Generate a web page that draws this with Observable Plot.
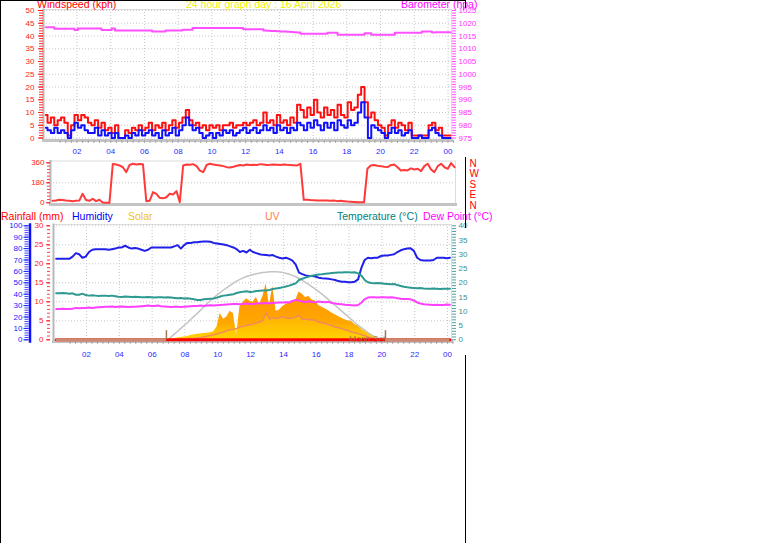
<!DOCTYPE html>
<html><head><meta charset="utf-8">
<script src="https://cdn.jsdelivr.net/npm/d3@7"></script>
<script src="https://cdn.jsdelivr.net/npm/@observablehq/plot@0.6"></script>
<style>
html,body{margin:0;padding:0;background:#fff;}
#wrap{position:relative;width:761px;height:543px;overflow:hidden;background:#fff;font-family:"Liberation Sans",Arial,sans-serif;}
#wrap svg{position:absolute;left:0;top:0;}
.lbl{position:absolute;white-space:nowrap;font-size:10.5px;line-height:1;}
.bl{position:absolute;background:#000;}
</style></head><body>
<svg width="0" height="0" style="position:absolute">
  <defs>
    <linearGradient id="solarGrad" x1="0" y1="0" x2="0" y2="1">
      <stop offset="0" stop-color="#ff9400"/>
      <stop offset="0.7" stop-color="#ffa600"/>
      <stop offset="1" stop-color="#ffd800"/>
    </linearGradient>
  </defs>
</svg>
<div id="wrap"></div>
<script>
// ---------------- data ----------------
const sampleHours = d3.range(121).map(i => +(0.15 + 0.2 * i).toFixed(2)); // sampling grid (hours)

const windGust = [9,6,8,5,7, 8,6,1,5,9,7,9,8,6, 5,7,4,6,3, 4,2,5, 0,0,
  3,2,4,3,5,3,4,6,3,5,4,6,3,5, 7,4,6,8,11,7,5,6,4,5, 3,5,4,5,3,5,5,6,4,5,
  5,6,5,6,7,5,6,10,6,7, 5,9,6,7,5,8,6,13,11,8, 12,9,15,10,8,12,9,11,8,13,
  9,8,14,11,12,17,20,14,8,10, 7,5,4,1,5,7,4,6,5,3, 6,1,1,1,1,1,5,6,3,4, 1,1,1];
const windAvg = [4,3,2,4,2, 3,2,0,3,6,4,5,3,2, 2,4,1,3,1, 2,0,2, 0,0,
  1,0,2,1,3,1,2,3,1,2,0,3,1,2, 4,1,3,5,8,5,3,4,2,0, 1,2,0,2,1,3,2,3,1,2,
  3,4,2,3,4,2,3,5,3,4, 2,5,3,4,2,4,3,6,5,3, 6,4,7,5,3,6,4,6,3,7,
  5,4,7,5,6,10,14,8,0,5, 4,3,2,0,2,4,2,3,1,2, 3,0,0,1,0,0,3,4,2,1, 0,0,0];
const barometer = [1018.4,1018.4,1018.4, 1017.8,1017.8,1017.8,1017.8,1017.8,1017.8, 1017.4,
  1017.9,1017.9,1017.9,1017.9,1017.9,1017.9,1017.9, 1017.4,1017.4,1017.4, 1017.9,
  1017.2,1017.2,1017.2,1017.2,1017.2,1017.2,1017.2,1017.2,1017.2,1017.2,1017.2,
  1016.8,1016.8,1016.8,1016.8, 1017.2,1017.2,1017.2,1017.2,1017.2, 1017.5,1017.5,1017.5,
  1018.1,1018.1,1018.1,1018.1,1018.1,1018.1,1018.1,1018.1,1018.1,1018.1,1018.1,1018.1,1018.1,1018.1,1018.1,
  1017.6,1017.6,1017.6,1017.6,1017.6,1017.6,
  1017.2,1017.1,1017.0,1017.0,1016.9,1016.8,1016.8,1016.7,1016.6,1016.5,1016.4,
  1015.9,1015.9,1015.9,1015.9,1015.9,1015.9,1015.9,1015.9, 1016.3,1016.3,1016.3,
  1015.5,1015.5,1015.5,1015.5,1015.5,1015.5,1015.5,1015.5, 1016.1,1016.1,
  1015.5,1015.5,1015.5,1015.5,1015.5,1015.5,1015.5,
  1016.3,1016.3,1016.3,1016.3,1016.3,1016.3,1016.3,1016.3, 1016.8,1016.8,1016.8, 1016.4,
  1016.5,1016.5,1016.5,1016.5,1016.5];
const windDir = [18,20,27,25,20,18,15,18,20, 81,25,18,36,15,27,3,0, 0,
  350,345,336,320,276,340,351,345,350,348, 15,18,96,81,45,40,50,81,75,105,6,
  336,345,342,348,330,290,276,340,351,345,340,336,330,321,318,325,333,340,336,345,340,
  342,340,348,345,340,342,345,343,340,345,342,340,338,336,351,
  27,27,25,24,21,21,20,21,18,21,15,18,15,12,10,8,6,6,6,
  306,336,340,333,330,325,321,338,345,320,291,295,291,310,300,306,285,330,351,300,276,330,351,320,306,357,321];

const humidity = [71,71,71,71,71, 73,76,75,72,73,77,79, 79.5,79.5,79.5,79.5,79,79.5,
  80,81,81,82.5,81,80,80.5,80,79,78,79, 81,81,81,81,81,81,81,82,83,80,83,
  85,85,85.5,85.5,86,86.3,86.3,86,85,84.5, 84,83.5,83,82,81,79.5,77,78,76.6,79,
  77,76,75,74.5,74.3,74,74.3,73,72,71.3, 72,71,69.5,66,59,57.6,56.5,56,56,55.5,
  54.5,54,53.8,53.5,53,52.5,51.5,51,50.9,50.5, 50.5,51,53,63,70,72,71.5,72,72,73.5,
  74,74,74.5,75,77,78.5,79.5,80,80.4,78, 72,70,69.5,69.5,69.5,70,72,72,72,71.5,72];
const temperature = [16.3,16.3,16.4,16.3,16.2,16.3, 15.8,15.8,16.2,15.7,
  15.5,15.6,15.5,15.4,15.5,15.5,15.4,15.5,15.3, 15.1,15.0,15.2,15.1,15.0,15.1,15.0,
  14.9,14.9,15.0,14.9,14.8,14.9,14.9,14.8,14.9,14.8, 14.7,14.6,14.7,14.5,14.6,14.4,
  14.2,14.0,14.0, 14.2,14.3,14.4,14.5, 14.8,15.2,15.5,15.6,15.8,16.0, 16.4,16.7,16.9,17.0,
  16.8,16.9,17.1,17.2, 17.3,17.3,17.5,17.8,18.0, 18.2,18.4,18.7,19.0,19.4, 19.8,21.0,21.4,
  21.8,22.2,22.5,22.7, 22.9,23.0,23.2,23.3,23.4,23.5,23.6,23.6, 23.7,23.7,23.6,23.7,23.3,
  22.5,21.0,20.2,19.9,19.8,19.9,19.8,19.7, 19.6,19.5,19.6,19.2, 18.9,18.6,18.4,18.3,
  18.2,18.1,18.2,18.0,17.9, 17.9,18.0,17.9,17.8,17.9,17.9,17.9];
const dewPoint = [10.8,10.8,10.9,10.8,10.8,10.9, 11.2,11.1,11.2,11.2,11.3,11.2,11.3,11.4,
  11.5,11.6,11.6,11.7,11.5,11.6,11.7,11.6,11.5,11.6,11.6,11.7,11.8,
  11.9,12.0,11.9,11.9,12.0,11.8, 11.7,11.6,11.5,11.6,11.6,11.5,11.6,11.7,
  11.8,11.9,11.9,12.0,11.9,12.0,12.1,12.0,12.1, 12.2,12.3,12.4,12.5,12.6,12.6,12.5,12.6,12.7,12.6,
  12.6,12.7,12.8,12.8,12.9,12.8,12.9, 13.0,13.1,13.1,13.2,13.1, 13.6,14.0,13.8,
  13.4,13.3,13.5,13.3,13.2,13.4,13.3,13.2,13.3, 12.9,12.7,12.6,12.5,12.3,12.2,12.1,12.0,
  12.2,13.0,14.3,14.8, 14.9,14.9,14.8,14.9,14.9,14.8,14.9,14.8, 14.6,14.4,14.3,14.3,14.2,
  13.8,13.1, 12.7,12.5,12.4,12.3,12.2,12.3,12.2,12.2,12.4,12.3];
const rainHours = [0.15, 24.15];
const rainfall = [0, 0];

// daytime samples (sampleHours index 34 .. 100)
const daySamples = sampleHours.slice(34, 101);
const solar = [2,5,10,15,20,25,30,38,42,48, 50,55,58,62,70,110,230,180,200,250,
  230,40,290,330,360,340,330,371,310,380, 489,300,470,250,260,290,310,320,330,345,
  420,400,371,380,350,340,300,285,270,255, 235,220,205,190,175,165,160,135,120,95,
  75,60,45,30,18,8,0];
const solarMax = [0,25,50,75,100,125,150,180,205,232, 260,290,318,345,370,392,415,437,458,478,
  498,515,530,543,555,564,572,579,585,590, 593,596,597,596,594,590,583,575,565,553,
  538,522,504,485,465,445,423,400,376,352, 328,303,278,252,227,202,177,152,128,106,
  85,64,45,28,15,5,0];
const uvIndex = [0,0,0.05,0.05,0.1,0.1, 0.15,0.2,0.2,0.25, 0.3,0.4,0.5,0.6,0.7, 0.8,1.0,1.1,1.3,1.4,
  1.5,1.6,1.8,1.9, 2.0,2.1,2.2,2.4,2.5,2.7, 3.8,2.9, 3.1,3.0,3.1,3.2,3.1,3.0,3.1,3.2,
  3.4,2.9,2.9,2.8,2.8,2.7, 2.5,2.4,2.3,2.1,2.0, 1.8,1.7,1.6,1.4,1.3, 1.1,1.0,0.9,0.7,0.6,
  0.4,0.3,0.2,0.15,0.1, 0];
const sunEvents = [6.87, 20.22];          // sunrise, sunset
const nightSpans = [[0.15, 6.87], [20.22, 24.15]];
const moonSetHour = [20.22];

// ticks
const hourTicks = [2,4,6,8,10,12,14,16,18,20,22,24];
const hourLabels = ["02","04","06","08","10","12","14","16","18","20","22","00"];
const windTicks = [0,5,10,15,20,25,30,35,40,45,50];
const baroTicks = [975,980,985,990,995,1000,1005,1010,1015,1020,1025];
const dirTicks = [0,180,360];
const compassTicks = [360,270,180,90,0];
const compassLabels = ["N","W","S","E","N"];
const humidityTicks = [0,10,20,30,40,50,60,70,80,90,100];
const rainTicks = [0,5,10,15,20,25,30];
const tempTicks = [0,5,10,15,20,25,30,35,40];

// ---------------- rows ----------------
const windRows = sampleHours.map((t, i) => ({t, gust: windGust[i], avg: windAvg[i], baro: barometer[i], dir: windDir[i]}));
const climRows = sampleHours.map((t, i) => ({t, hum: humidity[i], temp: temperature[i], dew: dewPoint[i]}));
const dayRows = daySamples.map((t, i) => ({t, solar: solar[i], max: solarMax[i], uv: uvIndex[i]}));
const rainRows = rainHours.map((t, i) => ({t, rain: rainfall[i]}));

// ---------------- helpers ----------------
const FONT = "'Liberation Sans', Arial, sans-serif";
const W = 761, H = 543;
const wrap = document.getElementById("wrap");
const hourFmt = d => hourLabels[hourTicks.indexOf(d)] ?? "";
const intFmt = d => String(d);
const none = () => "";
const gridStyle = {stroke: "#c8c8c8", strokeOpacity: 1, strokeDasharray: "1,2"};

function layer({left, right, top, bottom, x, y, marks}) {
  const svg = Plot.plot({
    width: W, height: H,
    marginLeft: left, marginRight: W - right, marginTop: top, marginBottom: H - bottom,
    x: {...x, label: null, axis: null},
    y: {...y, label: null, axis: null},
    style: {background: "transparent", overflow: "visible", fontFamily: FONT, fontSize: "8px"},
    marks
  });
  wrap.appendChild(svg);
}
function frameMarks() {
  return [
    Plot.frame({stroke: "#dcdcdc"}),
    Plot.frame({anchor: "left", stroke: "#b8b8b8", strokeWidth: 2}),
    Plot.frame({anchor: "bottom", stroke: "#c4c4c4", strokeWidth: 3})
  ];
}

// ---------------- panel 1: wind speed + barometer ----------------
const P1 = {left: 43, right: 451, top: 9, bottom: 140};
const x1 = {domain: [0, 24], range: [42.8, 447.5]};
const yWind = {domain: [0, 50], range: [137.5, 10]};
layer({...P1, x: x1, y: yWind, marks: [
  Plot.gridX(hourTicks, gridStyle),
  Plot.gridY(windTicks, gridStyle),
  ...frameMarks(),
  Plot.axisY(d3.range(0, 50.5, 1), {tickSize: 4, tickFormat: none, color: "#ff3030"}),
  Plot.axisY(windTicks, {tickSize: 5, tickPadding: 4, tickFormat: intFmt, color: "#ff2020", fontSize: 8}),
  Plot.axisX(d3.range(1, 24.5, 1/3), {tickSize: 3, tickFormat: none, color: "#a8a8a8"}),
  Plot.axisX(hourTicks, {tickSize: 0, tickPadding: 8, tickFormat: hourFmt, color: "#2a2aff", fontSize: 8}),
  Plot.line(windRows, {x: "t", y: "gust", stroke: "#ff1010", strokeWidth: 2, curve: "step"}),
  Plot.line(windRows, {x: "t", y: "avg", stroke: "#1010ff", strokeWidth: 2, curve: "step"})
]});
layer({...P1, x: x1, y: {domain: [975, 1025], range: [137.5, 10]}, marks: [
  Plot.axisY(d3.range(975, 1025.5, 1), {anchor: "right", tickSize: 4, tickFormat: none, color: "#ff50ff"}),
  Plot.axisY(baroTicks, {anchor: "right", tickSize: 0, tickPadding: 7, tickFormat: intFmt, color: "#ff30ff", fontSize: 8}),
  Plot.line(windRows, {x: "t", y: "baro", stroke: "#ff50ff", strokeWidth: 2, curve: "step"})
]});

// ---------------- panel 2: wind direction ----------------
const P2 = {left: 50, right: 455, top: 160.5, bottom: 204};
const compassFmt = d => compassLabels[compassTicks.indexOf(d)];
layer({...P2, x: {domain: [0.15, 24.15], range: [52, 454]}, y: {domain: [0, 360], range: [202.3, 162.3]}, marks: [
  Plot.gridY([180], gridStyle),
  ...frameMarks(),
  Plot.axisY(d3.range(0, 361, 30), {tickSize: 3, tickFormat: none, color: "#ff4040"}),
  Plot.axisY(dirTicks, {tickSize: 4, tickPadding: 2, tickFormat: intFmt, color: "#ff2020", fontSize: 8}),
  Plot.line(windRows, {x: "t", y: "dir", stroke: "#ff3a3a", strokeWidth: 2})
]});
// compass letters (spread slightly wider than the degree scale, as in the original)
layer({...P2, x: {domain: [0.15, 24.15], range: [52, 454]}, y: {domain: [0, 360], range: [205, 163.3]}, marks: [
  Plot.axisY(compassTicks, {anchor: "right", tickSize: 0, tickPadding: 14, tickFormat: compassFmt, color: "#ff0000", fontSize: 10})
]});

// ---------------- panel 3: climate ----------------
const P3 = {left: 53, right: 451, top: 224, bottom: 341};
const x3 = {domain: [0, 24], range: [53.2, 447]};
const yr = [339.3, 225.3];
// grid, frame and rainfall axis
layer({...P3, x: x3, y: {domain: [0, 30], range: yr}, marks: [
  Plot.gridX(hourTicks, gridStyle),
  Plot.gridY(rainTicks, gridStyle),
  ...frameMarks(),
  Plot.axisY(d3.range(0, 30.5, 1), {tickSize: 3, dx: -3, tickFormat: none, color: "#ff4040"}),
  Plot.axisY(rainTicks, {tickSize: 4, tickPadding: 3, dx: -3, tickFormat: intFmt, color: "#ff2020", fontSize: 8}),
  Plot.axisX(d3.range(1, 24.5, 1/3), {tickSize: 3, tickFormat: none, color: "#a8a8a8"}),
  Plot.axisX(hourTicks, {tickSize: 0, tickPadding: 10, tickFormat: hourFmt, color: "#2a2aff", fontSize: 8})
]});
// solar
layer({...P3, x: x3, y: {domain: [0, 1000], range: yr}, marks: [
  Plot.areaY(dayRows, {x: "t", y: "solar", fill: "url(#solarGrad)"}),
  Plot.line(dayRows, {x: "t", y: "max", stroke: "#c4c4c4", strokeWidth: 1.5})
]});
// UV
layer({...P3, x: x3, y: {domain: [0, 16], range: yr}, marks: [
  Plot.areaY(dayRows, {x: "t", y: "uv", fill: "#ffd000", fillOpacity: 0.45}),
  Plot.line(dayRows, {x: "t", y: "uv", stroke: "#f08a5a", strokeWidth: 1.5})
]});
// rainfall line, night bars, sun markers
layer({...P3, x: x3, y: {domain: [0, 30], range: yr}, marks: [
  Plot.line(rainRows, {x: "t", y: "rain", stroke: "#ff0000", strokeWidth: 3})
]});
layer({...P3, x: x3, y: {domain: [0, 1000], range: yr}, marks: [
  Plot.ruleY(nightSpans, {y: () => 0, x1: d => d[0], x2: d => d[1], stroke: "#cc8a70", strokeWidth: 3}),
  Plot.ruleX(sunEvents, {x: d => d, y1: 0, y2: 80, stroke: "#a07850", strokeWidth: 1.5}),
  Plot.text(moonSetHour, {x: d => d, y: () => 0, text: () => "Moon Set", textAnchor: "end", lineAnchor: "bottom", dy: 2, fill: "#a07050", fillOpacity: 0.85, fontSize: 8.5})
]});
// humidity
layer({...P3, x: x3, y: {domain: [0, 100], range: yr}, marks: [
  Plot.frame({anchor: "left", stroke: "#1010ff", strokeWidth: 2.5, dx: -23.5}),
  Plot.axisY(d3.range(0, 101, 2), {tickSize: 4, dx: -24.5, tickFormat: none, color: "#4040ff"}),
  Plot.axisY(humidityTicks, {tickSize: 5, tickPadding: 1.5, dx: -24.5, tickFormat: intFmt, color: "#2020ff", fontSize: 8}),
  Plot.line(climRows, {x: "t", y: "hum", stroke: "#2020e8", strokeWidth: 2})
]});
// temperature + dew point
layer({...P3, x: x3, y: {domain: [0, 40], range: yr}, marks: [
  Plot.axisY(d3.range(0, 40.5, 1), {anchor: "right", tickSize: 4, tickFormat: none, color: "#50a0a0"}),
  Plot.axisY(tempTicks, {anchor: "right", tickSize: 0, tickPadding: 7, tickFormat: intFmt, color: "#3a9090", fontSize: 8}),
  Plot.line(climRows, {x: "t", y: "temp", stroke: "#2e9990", strokeWidth: 2}),
  Plot.line(climRows, {x: "t", y: "dew", stroke: "#ff40ff", strokeWidth: 2})
]});

// ---------------- text labels ----------------
const labels = [
  {text: "Windspeed (kph)", color: "#ff0000", left: 37, base: 7.5},
  {text: "24 hour graph day : 16 April 2026", color: "#f0f000", left: 186, base: 7.5},
  {text: "Barometer (hpa)", color: "#ff00ff", left: 401, base: 7.5},
  {text: "Rainfall (mm)", color: "#ff0000", left: 1, base: 220},
  {text: "Humidity", color: "#0000ff", left: 72, base: 220},
  {text: "Solar", color: "#f0c020", left: 128, base: 220},
  {text: "UV", color: "#ff7f50", left: 265, base: 220},
  {text: "Temperature (°C)", color: "#008080", left: 337, base: 220},
  {text: "Dew Point (°C)", color: "#ff00ff", left: 423, base: 220}
];
for (const l of labels) {
  const s = document.createElement("div");
  s.className = "lbl";
  s.textContent = l.text;
  s.style.color = l.color;
  s.style.left = l.left + "px";
  s.style.top = (l.base - 8.9) + "px";
  wrap.appendChild(s);
}
// image border lines
const borders = [[0,0,1,543],[0,0,466,1],[465,0,1,8],[465,157,1,71],[465,355,1,188]];
for (const [x, y, w, h] of borders) {
  const b = document.createElement("div");
  b.className = "bl";
  Object.assign(b.style, {left: x + "px", top: y + "px", width: w + "px", height: h + "px"});
  wrap.appendChild(b);
}
</script>
</body></html>
